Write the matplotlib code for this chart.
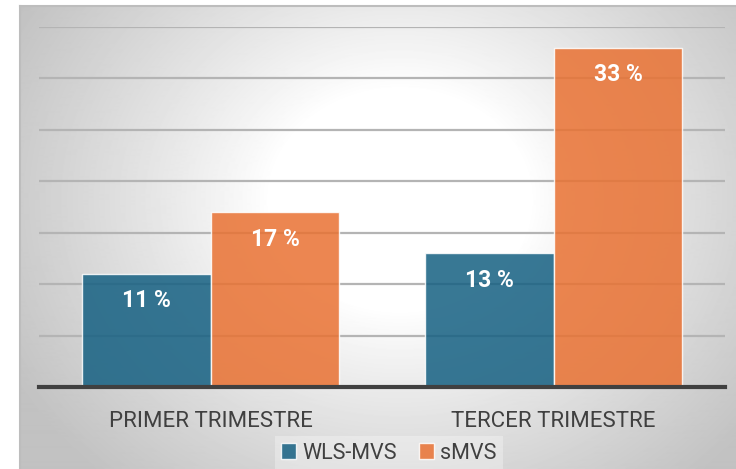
import matplotlib
matplotlib.use("Agg")
import matplotlib.pyplot as plt
import numpy as np

categories = ['PRIMER TRIMESTRE', 'TERCER TRIMESTRE']
series_names = ['WLS-MVS', 'sMVS']
wls_mvs = [11, 13]
smvs = [17, 33]
labels_wls = ['11 %', '13 %']
labels_smvs = ['17 %', '33 %']

plt.rcParams['font.family'] = ['Roboto', 'DejaVu Sans']

W, H = 736, 469
fig = plt.figure(figsize=(W / 100, H / 100), dpi=100)

# gradient background panel
bg = fig.add_axes([20 / W, 0, 1 - 20 / W, (H - 6) / H], zorder=0)
yy, xx = np.mgrid[6:H, 20:W].astype(float)
d = np.hypot((xx - 400) / 1.0, (yy - 200) / 0.85)
v = 1 - 0.24 * np.clip((d - 130) / 310, 0, 1) ** 0.9
bg.imshow(v, cmap='gray', vmin=0, vmax=1, aspect='auto', interpolation='bilinear')
bg.set_axis_off()
fig.add_artist(plt.Line2D([20 / W, 20 / W], [0, (H - 6) / H], color='#bdbdbd', lw=1.5))
fig.add_artist(plt.Line2D([20 / W, 1], [(H - 6) / H, (H - 6) / H], color='#bdbdbd', lw=1.5))

ax = fig.add_axes([39 / W, (H - 387) / H, 686 / W, 360 / H], zorder=1)
ax.set_facecolor('none')
x = np.arange(len(categories))
bw = 0.376
blue = '#156082'
orange = '#E97132'
b1 = ax.bar(x - bw / 2, wls_mvs, bw, color=blue, alpha=0.85, edgecolor=(1, 1, 1, 0.7), lw=1, zorder=3, label=series_names[0])
b2 = ax.bar(x + bw / 2, smvs, bw, color=orange, alpha=0.85, edgecolor=(1, 1, 1, 0.7), lw=1, zorder=3, label=series_names[1])

for xi, val, lab in zip(x - bw / 2, wls_mvs, labels_wls):
    ax.annotate(lab, (xi, val), xytext=(0, -27 * 0.72), textcoords='offset points',
                ha='center', va='center', color='white', fontsize=16.5, fontweight='bold', zorder=4)
for xi, val, lab in zip(x + bw / 2, smvs, labels_smvs):
    ax.annotate(lab, (xi, val), xytext=(0, -27 * 0.72), textcoords='offset points',
                ha='center', va='center', color='white', fontsize=16.5, fontweight='bold', zorder=4)

ax.set_xlim(-0.5, 1.5)
ax.set_ylim(0, 35)
ax.set_yticks(range(0, 36, 5))
ax.yaxis.grid(True, color='#b4b4b4', lw=1.6)
ax.set_axisbelow(True)
ax.tick_params(axis='y', left=False, labelleft=False)
ax.set_xticks(x)
ax.set_xticklabels(categories, fontsize=16, color='#404040')
ax.tick_params(axis='x', bottom=False, pad=14)
for s in ['top', 'left', 'right']:
    ax.spines[s].set_visible(False)
ax.spines['bottom'].set_color('#404040')
ax.spines['bottom'].set_linewidth(3)
ax.spines['bottom'].set_zorder(5)

leg = fig.legend(handles=[b1, b2], loc='center', bbox_to_anchor=(389 / W, (H - 453) / H),
                 ncol=2, frameon=True, fontsize=15.5, handlelength=0.7, handleheight=0.7,
                 handletextpad=0.3, columnspacing=1.0, borderpad=0.3)
leg.get_frame().set_facecolor('white')
leg.get_frame().set_alpha(0.3)
leg.get_frame().set_edgecolor('none')
leg.get_frame().set_boxstyle('square', pad=0)
for t in leg.get_texts():
    t.set_color('#404040')

fig.savefig('out.png', dpi=100)
